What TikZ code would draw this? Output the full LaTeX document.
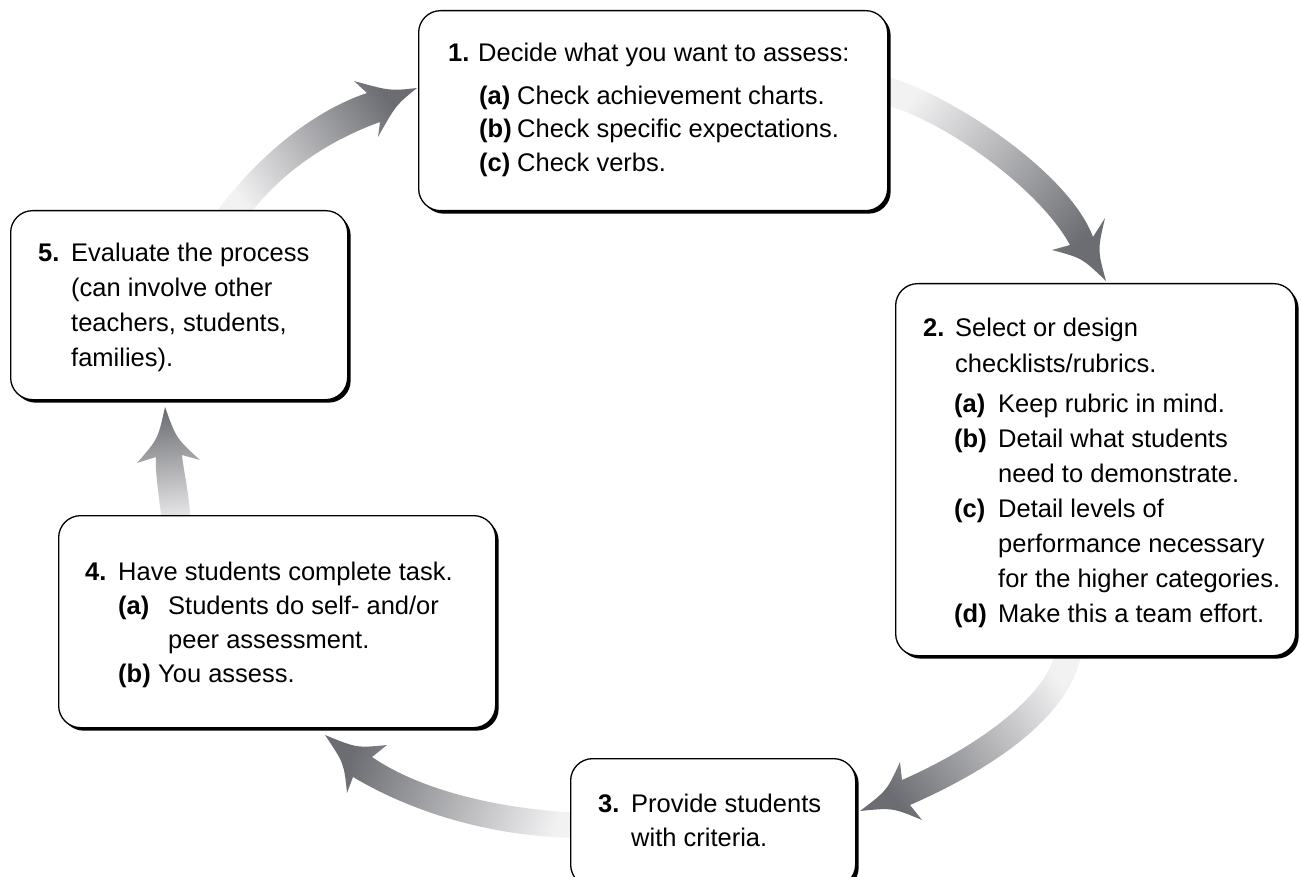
\documentclass[tikz,border=0pt]{standalone}
\usepackage{fontspec}
\setmainfont{Liberation Sans}
\usetikzlibrary{shadows}
\definecolor{adark}{RGB}{108,109,114}
\definecolor{alight}{RGB}{242,242,243}
\tikzset{
  box/.style={draw=black, line width=1.3pt, fill=white, rounded corners=22pt,
    drop shadow={shadow xshift=3pt, shadow yshift=-3pt, opacity=1, fill=black}},
  txt/.style={anchor=base west, inner sep=0pt, font=\fontsize{25.5}{30}\selectfont, text=black},
  arrowfill/.style={draw=none, top color=adark, bottom color=alight, shading angle=#1},
}
\newcommand{\tline}[4]{\node[txt] (#1) at (#2,-#3) {#4};}
\begin{document}
\begin{tikzpicture}[x=1pt,y=1pt]
\useasboundingbox (0,0) rectangle (1301,-877);
\fill[white] (0,0) rectangle (1301,-877);

% arrows
% 5 -> 1
\shade[arrowfill=-56] (211,-219) -- (218,-210) .. controls (255,-160) and (310,-112) .. (367,-93)
  -- (354,-81) .. controls (390,-91) .. (417,-88) .. controls (396,-105) .. (378,-137) -- (380,-122)
  .. controls (330,-140) and (285,-170) .. (253,-210) -- (246,-219) -- cycle;
% 1 -> 2
\shade[arrowfill=-131] (870,-78) -- (892,-78) .. controls (960,-100) and (1070,-175) .. (1093,-237)
  -- (1105,-218) .. controls (1097.5,-250) .. (1106,-281) .. controls (1082,-258) .. (1052,-250) -- (1070,-245)
  .. controls (1040,-190) and (950,-125) .. (892,-107) -- (870,-107) -- cycle;
% 2 -> 3
\shade[arrowfill=126] (1083,-645) -- (1080,-660) .. controls (1065,-720) and (990,-770) .. (910,-805)
  -- (922,-820) .. controls (892.5,-807.7) .. (860,-811) .. controls (887,-790.5) .. (900,-762) -- (902,-780)
  .. controls (975,-748) and (1040,-700) .. (1053,-660) -- (1058,-645) -- cycle;
% 3 -> 4
\shade[arrowfill=70] (585,-813) .. controls (500,-810) and (420,-790) .. (372,-757)
  -- (387,-745) .. controls (356.7,-748) .. (325,-735) .. controls (344,-763.3) .. (347,-793) -- (353,-777)
  .. controls (400,-805) and (480,-838) .. (585,-838) -- cycle;
% 4 -> 5
\shade[arrowfill=6] (163,-530) .. controls (158,-490) and (155,-470) .. (156,-457)
  -- (137,-463) .. controls (158,-439) .. (165,-407) .. controls (176.3,-438.5) .. (200,-460) -- (182,-455)
  .. controls (184,-475) and (190,-495) .. (191,-530) -- cycle;

% boxes
\node[box, anchor=north west, minimum width=469pt, minimum height=200pt] (b1) at (418,-10) {};
\node[box, anchor=north west, minimum width=400pt, minimum height=372pt] (b2) at (895,-283) {};
\node[box, anchor=north west, minimum width=285pt, minimum height=128pt] (b3) at (570,-758) {};
\node[box, anchor=north west, minimum width=437pt, minimum height=212pt] (b4) at (58,-515) {};
\node[box, anchor=north west, minimum width=337pt, minimum height=189pt] (b5) at (10,-210) {};

% box 1 text
\tline{n1}{448}{62}{\textbf{1.}}
\tline{t1}{478}{62}{Decide what you want to assess:}
\tline{l1a}{479}{105}{\textbf{(a)}}
\tline{t1a}{517}{105}{Check achievement charts.}
\tline{l1b}{479}{138}{\textbf{(b)}}
\tline{t1b}{517}{138}{Check specific expectations.}
\tline{l1c}{479}{172}{\textbf{(c)}}
\tline{t1c}{517}{172}{Check verbs.}

% box 2 text
\tline{n2}{923}{337}{\textbf{2.}}
\tline{t2}{955}{337}{Select or design}
\tline{t2x}{955}{372}{checklists/rubrics.}
\tline{l2a}{954}{412}{\textbf{(a)}}
\tline{t2a}{998}{412}{Keep rubric in mind.}
\tline{l2b}{954}{447}{\textbf{(b)}}
\tline{t2b}{998}{447}{Detail what students}
\tline{t2bx}{998}{482}{need to demonstrate.}
\tline{l2c}{954}{517}{\textbf{(c)}}
\tline{t2c}{998}{517}{Detail levels of}
\tline{t2cx}{998}{552}{performance necessary}
\tline{t2cy}{998}{587}{for the higher categories.}
\tline{l2d}{954}{622}{\textbf{(d)}}
\tline{t2d}{998}{622}{Make this a team effort.}

% box 3 text
\tline{n3}{598}{812}{\textbf{3.}}
\tline{t3}{631}{812}{Provide students}
\tline{t3x}{631}{846}{with criteria.}

% box 4 text
\tline{n4}{85}{580}{\textbf{4.}}
\tline{t4}{118}{580}{Have students complete task.}
\tline{l4a}{118}{614}{\textbf{(a)}}
\tline{t4a}{168}{614}{Students do self- and/or}
\tline{t4ax}{168}{648}{peer assessment.}
\tline{l4b}{118}{682}{\textbf{(b)}}
\tline{t4b}{158}{682}{You assess.}

% box 5 text
\tline{n5}{38}{262}{\textbf{5.}}
\tline{t5}{71}{262}{Evaluate the process}
\tline{t5x}{71}{297}{(can involve other}
\tline{t5y}{71}{331}{teachers, students,}
\tline{t5z}{71}{366}{families).}
\end{tikzpicture}
\end{document}
